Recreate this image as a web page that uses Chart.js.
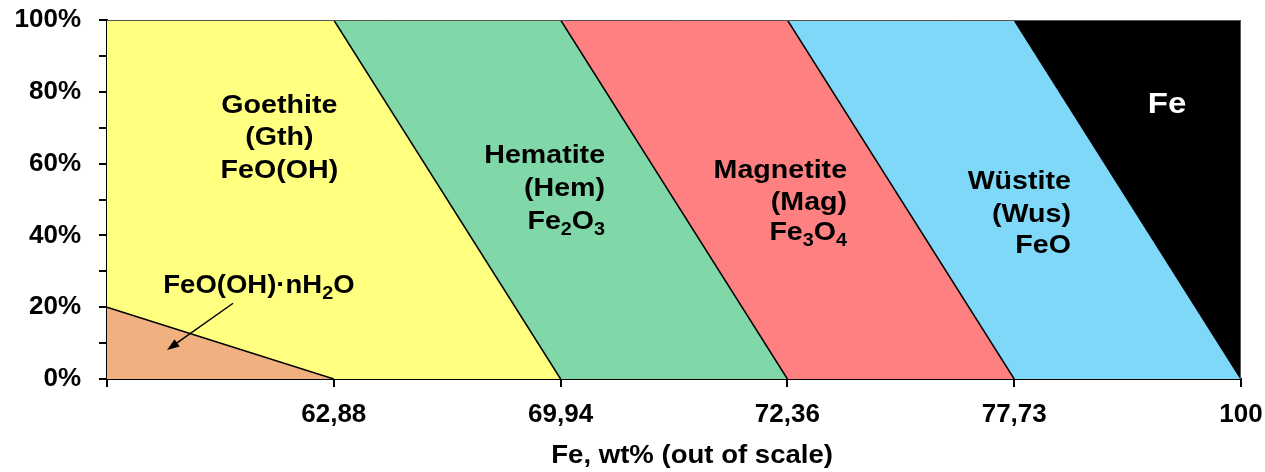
<!DOCTYPE html>
<html>
<head>
<meta charset="utf-8">
<script src="https://cdn.jsdelivr.net/npm/chart.js@4"></script>
<style>
  body { margin: 0; background: #fff; }
</style>
</head>
<body>
<canvas id="phaseChart" width="1265" height="472"></canvas>
<script>
// x positions are out of scale, only the labels matter
const xLabels = ["", "62,88", "69,94", "72,36", "77,73", "100"];
const yLabelTicks = [0, 20, 40, 60, 80, 100];

// upper edge of each phase field at every x position (%)
const hydrateTop = [20, 0, 0, 0, 0, 0];
const goethiteTop = [100, 100, 0, 0, 0, 0];
const hematiteTop = [100, 100, 100, 0, 0, 0];
const magnetiteTop = [100, 100, 100, 100, 0, 0];
const wustiteTop = [100, 100, 100, 100, 100, 0];
const ironTop = [100, 100, 100, 100, 100, 100];

const phaseNames = ["FeO(OH)·nH2O", "Goethite", "Hematite", "Magnetite", "Wüstite", "Fe"];
const phaseTops = [hydrateTop, goethiteTop, hematiteTop, magnetiteTop, wustiteTop, ironTop];
const phaseColors = ["#F0B080", "#FFFF80", "#80D8A8", "#FF8080", "#80D8F8", "#000000"];

// text inside the fields, "_n" = subscript
const notes = [
  { lines: ["Goethite", "(Gth)", "FeO(OH)"], x: 0.76, y: [74.2, 65.2, 56.1], align: "center", size: 26, color: "#000" },
  { lines: ["Hematite", "(Hem)", "Fe_2O_3"], x: 2.196, y: [60.3, 51.1, 41.7], align: "right", size: 26, color: "#000" },
  { lines: ["Magnetite", "(Mag)", "Fe_3O_4"], x: 3.263, y: [56.1, 47.2, 38.6], align: "right", size: 26, color: "#000" },
  { lines: ["Wüstite", "(Wus)", "FeO"], x: 4.25, y: [52.8, 43.6, 35.0], align: "right", size: 26, color: "#000" },
  { lines: ["Fe"], x: 4.674, y: [74.2], align: "center", size: 30, color: "#fff" },
  { lines: ["FeO(OH)·nH_2O"], x: 0.67, y: [23.9], align: "center", size: 25, color: "#000" },
];
const arrowFrom = [0.556, 21.1];
const arrowTo = [0.265, 8.1];
const axisTitle = "Fe, wt% (out of scale)";

Chart.defaults.font.family = "'Liberation Sans', Arial, sans-serif";
Chart.defaults.font.weight = "bold";
Chart.defaults.color = "#000";

function drawRich(ctx, str, x, y, align, size, color) {
  const parts = str.split(/_(\d)/);
  const fontFor = (sub) => "bold " + (sub ? Math.round(size * 0.7) : size) + "px 'Liberation Sans', Arial, sans-serif";
  let total = 0;
  parts.forEach((p, i) => {
    ctx.font = fontFor(i % 2 === 1);
    total += ctx.measureText(p).width;
  });
  const sx = 1.1;
  ctx.save();
  ctx.translate(x, y);
  ctx.scale(sx, 1);
  let cx = align === "center" ? -total / 2 : align === "right" ? -total : 0;
  ctx.fillStyle = color;
  ctx.textBaseline = "alphabetic";
  ctx.textAlign = "left";
  parts.forEach((p, i) => {
    const sub = i % 2 === 1;
    ctx.font = fontFor(sub);
    ctx.fillText(p, cx, sub ? size * 0.22 : 0);
    cx += ctx.measureText(p).width;
  });
  ctx.restore();
}

const notesPlugin = {
  id: "notes",
  afterDatasetsDraw(chart) {
    const ctx = chart.ctx;
    const xs = chart.scales.x;
    const ys = chart.scales.y;
    const area = chart.chartArea;

    // thin frame on top and right
    ctx.save();
    ctx.strokeStyle = "#555";
    ctx.lineWidth = 1;
    ctx.beginPath();
    ctx.moveTo(area.left, area.top + 0.5);
    ctx.lineTo(area.right - 0.5, area.top + 0.5);
    ctx.lineTo(area.right - 0.5, area.bottom);
    ctx.stroke();
    ctx.restore();

    notes.forEach((n) => {
      const px = xs.getPixelForValue(n.x);
      n.lines.forEach((line, i) => {
        drawRich(ctx, line, px, ys.getPixelForValue(n.y[i]), n.align, n.size, n.color);
      });
    });

    // arrow to the hydrate field
    const x1 = xs.getPixelForValue(arrowFrom[0]), y1 = ys.getPixelForValue(arrowFrom[1]);
    const x2 = xs.getPixelForValue(arrowTo[0]), y2 = ys.getPixelForValue(arrowTo[1]);
    const ang = Math.atan2(y2 - y1, x2 - x1);
    const head = 13;
    ctx.save();
    ctx.strokeStyle = "#000";
    ctx.fillStyle = "#000";
    ctx.lineWidth = 1.5;
    ctx.beginPath();
    ctx.moveTo(x1, y1);
    ctx.lineTo(x2 - Math.cos(ang) * head * 0.8, y2 - Math.sin(ang) * head * 0.8);
    ctx.stroke();
    ctx.beginPath();
    ctx.moveTo(x2, y2);
    ctx.lineTo(x2 - head * Math.cos(ang - 0.35), y2 - head * Math.sin(ang - 0.35));
    ctx.lineTo(x2 - head * Math.cos(ang + 0.35), y2 - head * Math.sin(ang + 0.35));
    ctx.closePath();
    ctx.fill();
    ctx.restore();

    // axis title, sits a little right of centre
    ctx.save();
    const tx = xs.getPixelForValue(2.58);
    const ty = area.bottom + 84;
    ctx.font = "bold 26px 'Liberation Sans', Arial, sans-serif";
    const w = ctx.measureText(axisTitle).width;
    ctx.translate(tx, ty);
    ctx.scale(1.06, 1);
    ctx.fillStyle = "#000";
    ctx.fillText(axisTitle, -w / 2, 0);
    ctx.restore();
  },
};

// filled fields, no outline
const fieldSets = phaseTops.map((top, i) => ({
  label: phaseNames[i],
  data: top,
  backgroundColor: phaseColors[i],
  fill: "origin",
  borderWidth: 0,
  pointRadius: 0,
  tension: 0,
  order: 1,
}));

// sloped boundaries only, flat parts left out
const slopeOnly = (top) =>
  top.map((v, j) =>
    (j > 0 && top[j - 1] !== v) || (j < top.length - 1 && top[j + 1] !== v) ? v : null
  );
const boundarySets = phaseTops.slice(0, 5).map((top, i) => ({
  label: phaseNames[i] + " edge",
  data: slopeOnly(top),
  fill: false,
  borderColor: "#000",
  borderWidth: 1.5,
  pointRadius: 0,
  tension: 0,
  spanGaps: false,
  order: 0,
}));

new Chart(document.getElementById("phaseChart"), {
  type: "line",
  data: { labels: xLabels, datasets: fieldSets.concat(boundarySets) },
  options: {
    responsive: false,
    animation: false,
    layout: { padding: { top: 20, right: 24, left: 0, bottom: 0 } },
    plugins: {
      legend: { display: false },
      tooltip: { enabled: false },
    },
    scales: {
      x: {
        type: "category",
        offset: false,
        z: 1,
        afterFit: (s) => {
          s.height = 93;
          s.paddingLeft = 0;
          s.paddingRight = 0;
        },
        grid: { drawOnChartArea: false, offset: false, color: "#000", lineWidth: 2, tickLength: 8 },
        border: { display: true, color: "#000", width: 2 },
        ticks: { font: { size: 26, weight: "bold" }, padding: 12, autoSkip: false, maxRotation: 0 },
      },
      y: {
        min: 0,
        max: 100,
        z: 1,
        afterFit: (s) => {
          s.width = 107;
          s.paddingTop = 0;
          s.paddingBottom = 0;
        },
        grid: { drawOnChartArea: false, color: "#000", lineWidth: 2, tickLength: 8 },
        border: { display: true, color: "#000", width: 2 },
        ticks: {
          stepSize: 10,
          padding: 18,
          font: { size: 26, weight: "bold" },
          callback: (v) => (yLabelTicks.includes(v) ? v + "%" : ""),
        },
      },
    },
  },
  plugins: [notesPlugin],
});
</script>
</body>
</html>
